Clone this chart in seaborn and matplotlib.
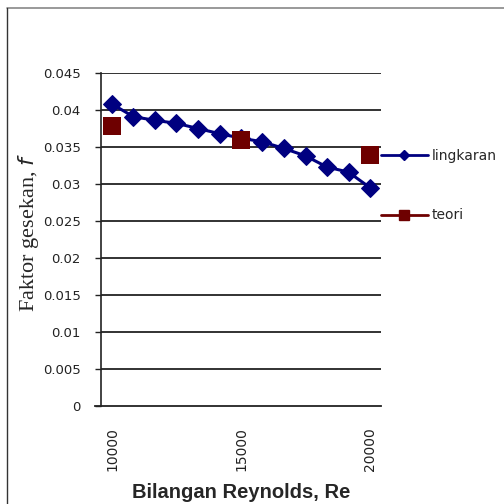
import numpy as np
import pandas as pd
import matplotlib
matplotlib.use("Agg")
import matplotlib.pyplot as plt
from matplotlib.lines import Line2D
import seaborn as sns

# Data
re_lingkaran = [10000, 10830, 11670, 12500, 13330, 14170, 15000,
                15830, 16670, 17500, 18330, 19170, 20000]
f_lingkaran = [0.0408, 0.0391, 0.0386, 0.0382, 0.0375, 0.0368, 0.0362,
               0.0357, 0.0348, 0.0338, 0.0323, 0.0316, 0.0295]
re_teori = [10000, 15000, 20000]
f_teori = [0.0378, 0.0359, 0.0339]

y_ticks = [0, 0.005, 0.01, 0.015, 0.02, 0.025, 0.03, 0.035, 0.04, 0.045]
y_ticklabels = ["0", "0.005", "0.01", "0.015", "0.02", "0.025", "0.03", "0.035", "0.04", "0.045"]
x_ticks = [10000, 15000, 20000]

blue = "#000080"
red = "#6e0000"

sns.set_style("white")
plt.rcParams["font.family"] = ["DejaVu Sans"]

df_l = pd.DataFrame({"Re": re_lingkaran, "f": f_lingkaran})
df_t = pd.DataFrame({"Re": re_teori, "f": f_teori})

fig = plt.figure(figsize=(5.04, 5.04), dpi=100)
ax = fig.add_axes([101 / 504, 98 / 504, 280 / 504, 333 / 504])

# gridlines first so the series sit on top
for yv in y_ticks[1:]:
    ax.axhline(yv, color="#222222", lw=1.3, zorder=1)

sns.lineplot(data=df_l, x="Re", y="f", ax=ax, color=blue, lw=2.2,
             marker="D", markersize=9, markeredgecolor=blue, zorder=3)
sns.scatterplot(data=df_t, x="Re", y="f", ax=ax, color=red, marker="s",
                s=170, edgecolor=red, linewidth=0, zorder=4)

ax.set_xlim(9574, 20426)
ax.set_ylim(0, 0.045)
ax.set_yticks(y_ticks)
ax.set_yticklabels(y_ticklabels, fontsize=9.5, color="#222222")
ax.set_xticks(x_ticks)
ax.set_xticklabels([str(v) for v in x_ticks], rotation=90, fontsize=10,
                   color="#222222", va="top")
ax.tick_params(axis="y", length=4.5, width=1, color="#222222", pad=10, left=True)
ax.tick_params(axis="x", length=0, pad=15)

for s in ["top", "right"]:
    ax.spines[s].set_visible(False)
ax.spines["left"].set_color("#222222")
ax.spines["left"].set_linewidth(1.2)
ax.spines["bottom"].set_color("#222222")
ax.spines["bottom"].set_linewidth(1.3)
ax.spines["bottom"].set_bounds(9574 - 230, 20426)

ax.set_xlabel("Bilangan Reynolds, Re", fontsize=14.5, fontweight="bold",
              family="Liberation Sans")
ax.set_ylabel(r"Faktor gesekan, $f$", fontsize=16, family="Liberation Serif")
ax.xaxis.set_label_coords(0.5, -0.232)
ax.yaxis.set_label_coords(-0.215, 0.52)

handles = [
    Line2D([], [], color=blue, lw=2, marker="D", markersize=5.5),
    Line2D([], [], color=red, lw=2, marker="s", markersize=7.5),
]
fig.legend(handles, ["lingkaran", "teori"], loc="upper left",
           bbox_to_anchor=(375 / 504, 1 - 143 / 504), frameon=False,
           fontsize=10, handlelength=3.4, handletextpad=0.3,
           labelspacing=3.3, borderaxespad=0)

# chart area border (top and left edges visible)
fig.add_artist(Line2D([7 / 504, 1], [1 - 8 / 504, 1 - 8 / 504],
                      transform=fig.transFigure, color="#888888", lw=1.2))
fig.add_artist(Line2D([7 / 504, 7 / 504], [0, 1 - 8 / 504],
                      transform=fig.transFigure, color="#333333", lw=1.0))

fig.savefig("out.png", dpi=100)
